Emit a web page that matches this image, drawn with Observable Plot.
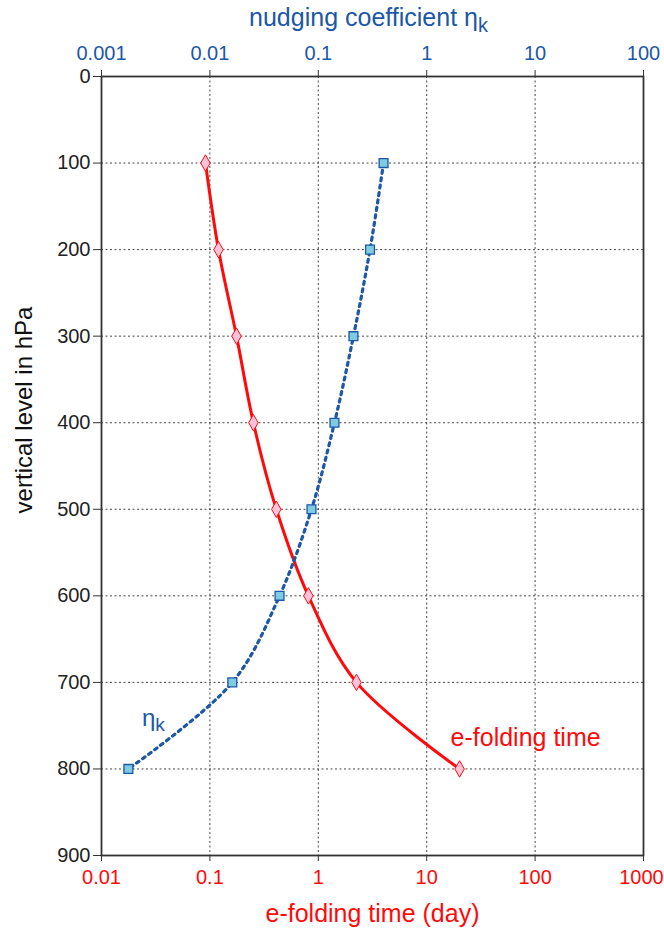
<!DOCTYPE html>
<html>
<head>
<meta charset="utf-8">
<script src="https://cdn.jsdelivr.net/npm/d3@7"></script>
<script src="https://cdn.jsdelivr.net/npm/@observablehq/plot@0.6"></script>
<style>
  html, body { margin: 0; padding: 0; background: #fff; }
  svg { font-family: "Liberation Sans", Arial, sans-serif; }
</style>
</head>
<body>
<div id="chart"></div>
<script>
// Vertical levels (hPa)
const levels = [100, 200, 300, 400, 500, 600, 700, 800];
// e-folding time (day), bottom axis
const efold = [0.091, 0.12, 0.176, 0.252, 0.41, 0.81, 2.25, 20.1];
// nudging coefficient eta_k, top axis
const eta = [0.40, 0.30, 0.211, 0.141, 0.0865, 0.0439, 0.0161, 0.00177];

const bottomTicks = [0.01, 0.1, 1, 10, 100, 1000];
const bottomTickLabels = ["0.01", "0.1", "1", "10", "100", "1000"];
const topTickLabels = ["0.001", "0.01", "0.1", "1", "10", "100"];
const yTicks = [0, 100, 200, 300, 400, 500, 600, 700, 800, 900];
// top axis is shifted one decade relative to the bottom axis
const topToBottom = 10;

const RED = "#ff0a0a";
const BLUE = "#1c58a6";

const redData = levels.map((p, i) => ({p, v: efold[i]}));
const blueData = levels.map((p, i) => ({p, v: eta[i] * topToBottom}));

function labelFor(list) {
  return d => {
    let best = 0, bd = Infinity;
    bottomTicks.forEach((t, i) => {
      const e = Math.abs(Math.log10(t) - Math.log10(d));
      if (e < bd) { bd = e; best = i; }
    });
    return list[best];
  };
}

const plot = Plot.plot({
  width: 664,
  height: 931,
  marginLeft: 101,
  marginRight: 21,
  marginTop: 76,
  marginBottom: 76,
  style: {fontFamily: "'Liberation Sans', Arial, sans-serif", background: "white"},
  x: {type: "log", domain: [0.01, 1000]},
  y: {domain: [0, 900], reverse: true},
  marks: [
    Plot.gridX(bottomTicks.slice(1, -1), {stroke: "#333", strokeOpacity: 0.9, strokeDasharray: "2,2.5", strokeWidth: 1}),
    Plot.gridY(yTicks.slice(1, -1), {stroke: "#333", strokeOpacity: 0.9, strokeDasharray: "2,2.5", strokeWidth: 1}),
    Plot.axisX(bottomTicks, {anchor: "bottom", tickFormat: labelFor(bottomTickLabels),
      tickSize: 6, tickPadding: 8, fontSize: 20, color: "#333", textStroke: "none", label: null}),
    Plot.axisX(bottomTicks, {anchor: "top", tickFormat: labelFor(topTickLabels),
      tickSize: 7, tickPadding: 10, fontSize: 20, color: "#333", textStroke: "none", label: null}),
    Plot.axisY(yTicks, {anchor: "left", tickFormat: d => String(d),
      tickSize: 8, tickPadding: 3, fontSize: 20, color: "#333", label: null}),
    Plot.frame({stroke: "#333", strokeWidth: 1.8}),
    Plot.line(redData, {x: "v", y: "p", curve: "catmull-rom", stroke: RED, strokeWidth: 3}),
    Plot.line(blueData, {x: "v", y: "p", curve: "catmull-rom", stroke: BLUE, strokeWidth: 3.2, strokeDasharray: "3,4.5"}),
    Plot.dot(redData, {x: "v", y: "p", symbol: "diamond", r: 5, fill: "#ffc2da", stroke: RED, strokeWidth: 1}),
    Plot.dot(blueData, {x: "v", y: "p", symbol: "square", r: 5, fill: "#7fcce2", stroke: BLUE, strokeWidth: 1.3}),
    Plot.text(["e-folding time"], {x: 16.6, y: 773, text: d => d, textAnchor: "start", lineAnchor: "bottom", fill: RED, fontSize: 25}),
    Plot.text(["η"], {x: 0.0236, y: 741, text: d => d, textAnchor: "start", fill: BLUE, fontSize: 24, className: "etaLabel"}),
    Plot.text(["nudging coefficient η"], {frameAnchor: "top", dy: -51, dx: -4, text: d => d, textAnchor: "middle", lineAnchor: "bottom", fill: BLUE, fontSize: 25, className: "etaLabel"}),
    Plot.text(["e-folding time (day)"], {frameAnchor: "bottom", dy: 66, dx: 0, text: d => d, textAnchor: "middle", lineAnchor: "bottom", fill: RED, fontSize: 25}),
    Plot.text(["vertical level in hPa"], {frameAnchor: "left", dx: -77, dy: -56, rotate: -90, text: d => d, textAnchor: "middle", fill: "#111", fontSize: 24})
  ]
});

const svg = d3.select(plot);
const xLabelGroups = svg.selectAll("g[aria-label='x-axis tick label']").nodes();
if (xLabelGroups.length === 2) {
  d3.select(xLabelGroups[0]).attr("fill", RED);
  d3.select(xLabelGroups[1]).attr("fill", BLUE);
  // keep the last bottom label ("1000") inside the picture
  const last = d3.select(xLabelGroups[0]).selectAll("text").nodes().pop();
  if (last) d3.select(last).attr("dx", -2);
}
svg.selectAll("g[aria-label='x-axis tick label'], g[aria-label='x-axis tick label'] text").style("font-size", "20px");
svg.selectAll("g[aria-label='y-axis tick label']").attr("fill", "#222");
svg.selectAll("g[aria-label='y-axis tick label'], g[aria-label='y-axis tick label'] text").style("font-size", "20px");
// subscript k for eta labels
svg.selectAll(".etaLabel text").each(function() {
  d3.select(this).append("tspan").attr("dy", "0.3em").attr("font-size", "0.8em").text("k");
});

document.getElementById("chart").appendChild(plot);
</script>
</body>
</html>
